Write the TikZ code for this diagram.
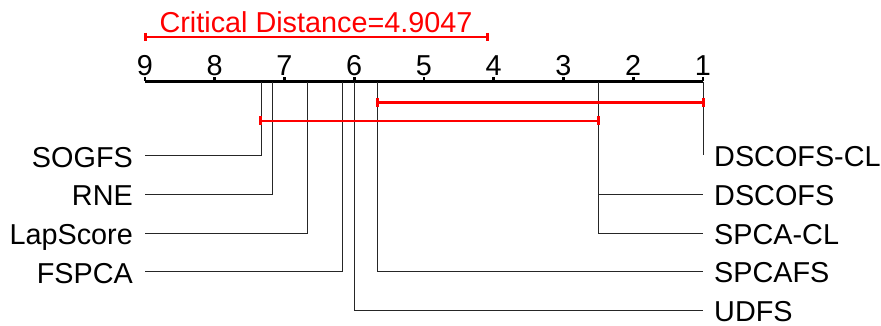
\documentclass[tikz,border=0pt]{standalone}
\usepackage{fontspec}
\setmainfont{Liberation Sans}
\usetikzlibrary{calc}
\begin{document}
\begin{tikzpicture}[x=1pt,y=-1pt,
  lbl/.style={inner sep=0pt,font=\fontsize{28.8}{32}\selectfont},
  conn/.style={draw=black!85,line width=1pt},
  axisline/.style={line width=3pt,line cap=butt},
  axtick/.style={line width=2.6pt},
  cdbar/.style={draw=red,line width=2.6pt},
  cdend/.style={draw=red,line width=3pt},
  cdtext/.style={lbl,text=red}]
\useasboundingbox (0,0) rectangle (881,326);
% rank -> x : 145 + (9-r)*69.75
\def\rx#1{145+(9-#1)*69.75}
% axis
\coordinate (ax9) at ({\rx{9}},81.5);
\coordinate (ax1) at ({\rx{1}},81.5);
\draw[axisline] (ax9) -- (ax1);
\foreach \r in {1,...,9}{
  \coordinate (t\r) at ({\rx{\r}},81.5);
  \draw[axtick] ({\rx{\r}},77.3) -- (t\r);
  \node[lbl,anchor=base] (n\r) at ({\rx{\r}},76) {\r};
}
% critical distance
\coordinate (cdL) at (145,37);
\coordinate (cdR) at ({145+4.9047*69.75},37);
\draw[cdbar] (cdL) -- (cdR);
\draw[cdend] ($(cdL)+(0,-4)$) -- ($(cdL)+(0,4)$);
\draw[cdend] ($(cdR)+(0,-4)$) -- ($(cdR)+(0,4)$);
\node[cdtext,anchor=base] (cdtxt) at ({145+4.9047*69.75/2},33) {Critical Distance=4.9047};
% axis points of methods
\coordinate (aSOGFS) at ({\rx{7.3333}},82);
\coordinate (aRNE) at ({\rx{7.1667}},82);
\coordinate (aLap) at ({\rx{6.6667}},82);
\coordinate (aFSPCA) at ({\rx{6.1667}},82);
\coordinate (aUDFS) at ({\rx{6}},82);
\coordinate (aSPCAFS) at ({\rx{5.6667}},82);
\coordinate (aSPCACL) at ({\rx{2.5}},82);
\coordinate (aDSCOFS) at ({\rx{2.5}},82);
\coordinate (aDSCOFSCL) at ({\rx{1}},82);
% row ends
\coordinate (eSOGFS) at (145,155.7);
\coordinate (eRNE) at (145,194.3);
\coordinate (eLap) at (145,233);
\coordinate (eFSPCA) at (145,271.7);
\coordinate (eUDFS) at (703,310.4);
\coordinate (eSPCAFS) at (703,271.7);
\coordinate (eSPCACL) at (703,233);
\coordinate (eDSCOFS) at (703,194.3);
\coordinate (eDSCOFSCL) at (703,155.5);
% labels
\node[lbl,anchor=base east] (lSOGFS) at (133,167.2) {SOGFS};
\node[lbl,anchor=base east] (lRNE) at (133,205.8) {RNE};
\node[lbl,anchor=base east] (lLap) at (133,244.5) {LapScore};
\node[lbl,anchor=base east] (lFSPCA) at (133,283.2) {FSPCA};
\node[lbl,anchor=base west] (lDSCOFSCL) at (714,166.7) {DSCOFS-CL};
\node[lbl,anchor=base west] (lDSCOFS) at (714,205.5) {DSCOFS};
\node[lbl,anchor=base west] (lSPCACL) at (714,244.2) {SPCA-CL};
\node[lbl,anchor=base west] (lSPCAFS) at (714,282.9) {SPCAFS};
\node[lbl,anchor=base west] (lUDFS) at (714,321.6) {UDFS};
% connectors
\draw[conn] (aSOGFS) |- (eSOGFS);
\draw[conn] (aRNE) |- (eRNE);
\draw[conn] (aLap) |- (eLap);
\draw[conn] (aFSPCA) |- (eFSPCA);
\draw[conn] (aUDFS) |- (eUDFS);
\draw[conn] (aSPCAFS) |- (eSPCAFS);
\draw[conn] (aSPCACL) |- (eSPCACL);
\draw[conn] (aDSCOFS) |- (eDSCOFS);
\draw[conn] (aDSCOFSCL) -- (eDSCOFSCL);
% cliques
\coordinate (c1L) at ({\rx{5.6667}},102.5);
\coordinate (c1R) at ({\rx{1}},102.5);
\draw[cdbar] (c1L) -- (c1R);
\draw[cdend] ($(c1L)+(0,-4.5)$) -- ($(c1L)+(0,4.5)$);
\draw[cdend] ($(c1R)+(0,-4.5)$) -- ($(c1R)+(0,4.5)$);
\coordinate (c2L) at ({\rx{7.3333}-1},121);
\coordinate (c2R) at ({\rx{2.5}},121);
\draw[cdbar] (c2L) -- (c2R);
\draw[cdend] ($(c2L)+(0,-4.5)$) -- ($(c2L)+(0,4.5)$);
\draw[cdend] ($(c2R)+(0,-4.5)$) -- ($(c2R)+(0,4.5)$);
\end{tikzpicture}
\end{document}
